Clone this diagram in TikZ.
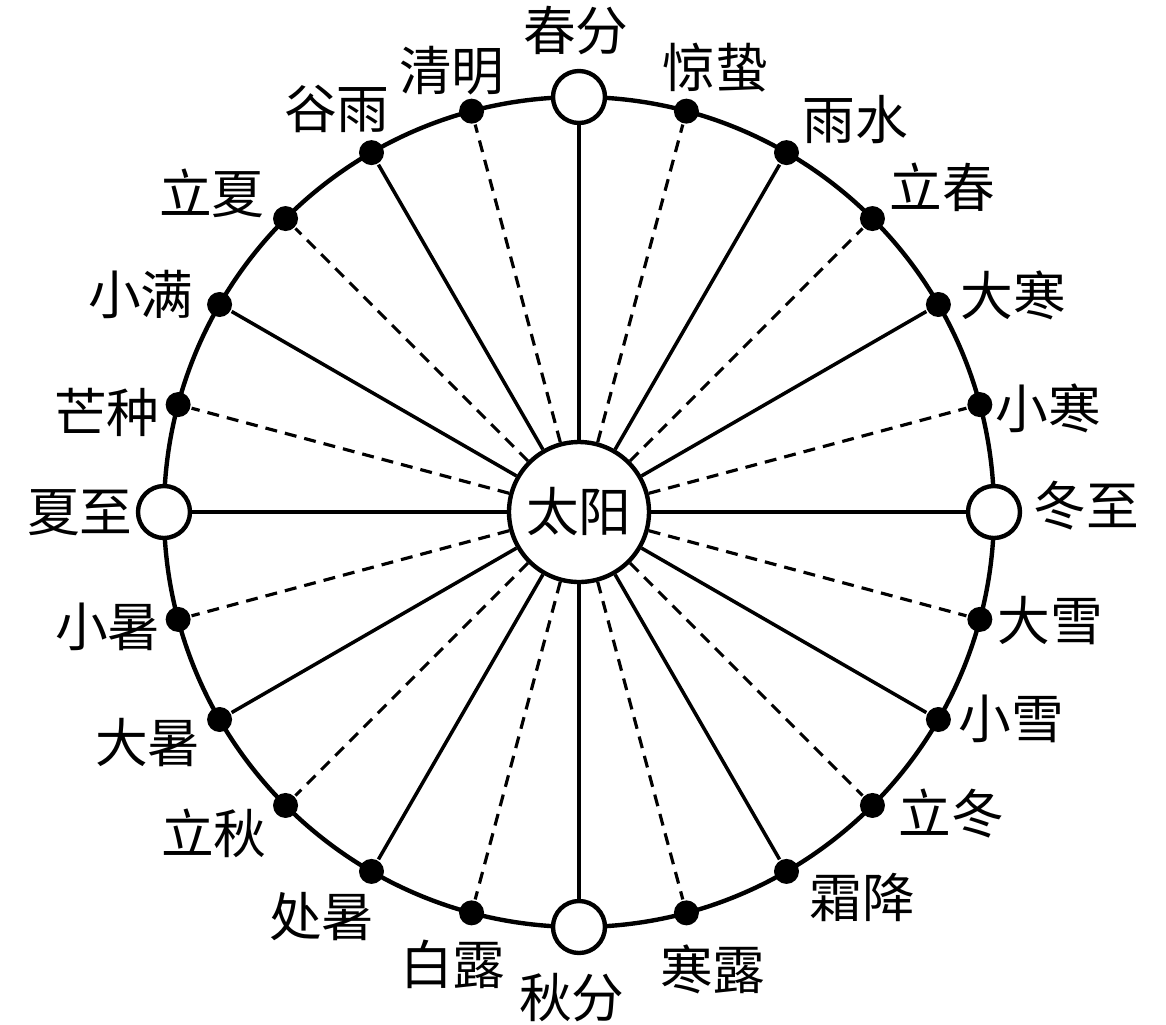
\documentclass[tikz,border=0pt]{standalone}
\usepackage{fontspec}
\setmainfont{Noto Sans CJK SC}

\begin{document}
\begin{tikzpicture}[-,thick,every node/.style={font=\fontsize{15}{18}\selectfont},
    sun node/.style={circle,draw,line width=1.25pt,fill=white,minimum size=1.4cm,inner sep=0pt},
    open node/.style={circle,draw,line width=1.25pt,fill=white,minimum size=0.52cm,inner sep=0pt},
    dot node/.style={circle,fill=black,minimum size=0.25cm,inner sep=0pt},
    ray/.style={line width=1pt},
    dash ray/.style={line width=0.9pt,dash pattern=on 3.4pt off 2.3pt}]
                \useasboundingbox (-5.79,-5.12) rectangle (5.87,5.12);
                \draw[line width=1.25pt] (0,0) circle (4.15);

                \node[sun node] (sun) at (0,0) {太阳};
                \node[open node] (0) at (90:4.15) {};
                \node[dot node] (1) at (105:4.15) {};
                \node[dot node] (2) at (120:4.15) {};
                \node[dot node] (3) at (135:4.15) {};
                \node[dot node] (4) at (150:4.15) {};
                \node[dot node] (5) at (165:4.15) {};
                \node[open node] (6) at (180:4.15) {};
                \node[dot node] (7) at (195:4.15) {};
                \node[dot node] (8) at (210:4.15) {};
                \node[dot node] (9) at (225:4.15) {};
                \node[dot node] (10) at (240:4.15) {};
                \node[dot node] (11) at (255:4.15) {};
                \node[open node] (12) at (270:4.15) {};
                \node[dot node] (13) at (285:4.15) {};
                \node[dot node] (14) at (300:4.15) {};
                \node[dot node] (15) at (315:4.15) {};
                \node[dot node] (16) at (330:4.15) {};
                \node[dot node] (17) at (345:4.15) {};
                \node[open node] (18) at (0:4.15) {};
                \node[dot node] (19) at (15:4.15) {};
                \node[dot node] (20) at (30:4.15) {};
                \node[dot node] (21) at (45:4.15) {};
                \node[dot node] (22) at (60:4.15) {};
                \node[dot node] (23) at (75:4.15) {};

                \node (l0) at (-0.03,4.81) {春分};
                \node (l1) at (-1.27,4.41) {清明};
                \node (l2) at (-2.42,4.03) {谷雨};
                \node (l3) at (-3.67,3.19) {立夏};
                \node (l4) at (-4.38,2.18) {小满};
                \node (l5) at (-4.72,1.00) {芒种};
                \node (l6) at (-4.99,-0.01) {夏至};
                \node (l7) at (-4.71,-1.15) {小暑};
                \node (l8) at (-4.31,-2.31) {大暑};
                \node (l9) at (-3.65,-3.21) {立秋};
                \node (l10) at (-2.57,-4.05) {处暑};
                \node (l11) at (-1.26,-4.52) {白露};
                \node (l12) at (-0.07,-4.86) {秋分};
                \node (l13) at (1.34,-4.57) {寒露};
                \node (l14) at (2.83,-3.85) {霜降};
                \node (l15) at (3.72,-3.02) {立冬};
                \node (l16) at (4.32,-2.07) {小雪};
                \node (l17) at (4.71,-1.09) {大雪};
                \node (l18) at (5.07,0.06) {冬至};
                \node (l19) at (4.69,1.04) {小寒};
                \node (l20) at (4.34,2.17) {大寒};
                \node (l21) at (3.63,3.25) {立春};
                \node (l22) at (2.76,3.92) {雨水};
                \node (l23) at (1.36,4.44) {惊蛰};

                \path[ray]
                    (sun) edge (0)
                    (sun) edge (2)
                    (sun) edge (4)
                    (sun) edge (6)
                    (sun) edge (8)
                    (sun) edge (10)
                    (sun) edge (12)
                    (sun) edge (14)
                    (sun) edge (16)
                    (sun) edge (18)
                    (sun) edge (20)
                    (sun) edge (22)
                ;
                \path[dash ray]
                    (sun) edge (1)
                    (sun) edge (3)
                    (sun) edge (5)
                    (sun) edge (7)
                    (sun) edge (9)
                    (sun) edge (11)
                    (sun) edge (13)
                    (sun) edge (15)
                    (sun) edge (17)
                    (sun) edge (19)
                    (sun) edge (21)
                    (sun) edge (23)
                ;
            \end{tikzpicture}
\end{document}
